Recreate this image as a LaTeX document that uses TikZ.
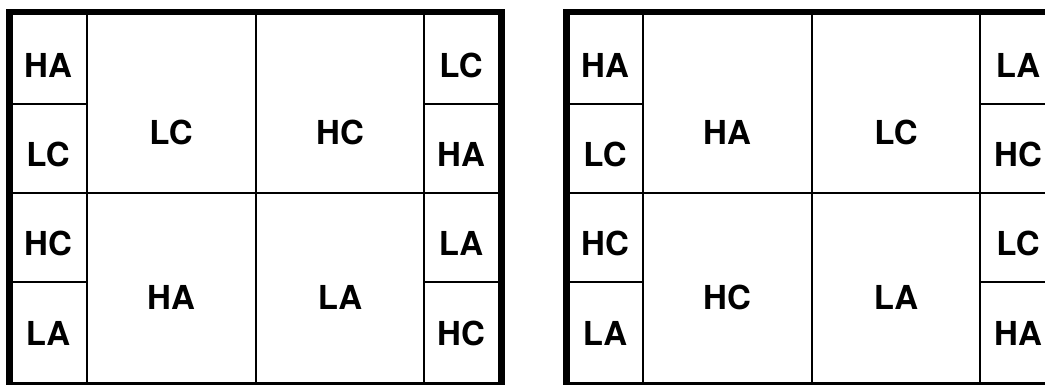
\documentclass[tikz,border=0pt]{standalone}
\usepackage{fontspec}
\setmainfont{TeX Gyre Heros}
\begin{document}
\begin{tikzpicture}[x=1pt,y=-1pt,
  thin line/.style={line width=2pt,black},
  frame/.style={line width=6.5pt,black},
  lbl/.style={font=\fontsize{33}{33}\selectfont\bfseries,inner sep=0pt}]
\useasboundingbox (0,0) rectangle (1045,384);
\clip (0,0) rectangle (1045,384);
% ---------- left grid ----------
\draw[thin line] (86.7,12) -- (86.7,386);
\draw[thin line] (256,12) -- (256,386);
\draw[thin line] (424,12) -- (424,386);
\draw[thin line] (12,193) -- (498,193);
\draw[thin line] (12,104) -- (86.7,104);
\draw[thin line] (12,282) -- (86.7,282);
\draw[thin line] (424,104) -- (498,104);
\draw[thin line] (424,282) -- (498,282);
\draw[frame] (9.5,385.5) rectangle (501.5,12);
% ---------- right grid ----------
\draw[thin line] (643,12) -- (643,386);
\draw[thin line] (812,12) -- (812,386);
\draw[thin line] (980,12) -- (980,386);
\draw[thin line] (570,193) -- (1054,193);
\draw[thin line] (570,104) -- (643,104);
\draw[thin line] (570,282) -- (643,282);
\draw[thin line] (980,104) -- (1054,104);
\draw[thin line] (980,282) -- (1054,282);
\draw[frame] (566.5,385.5) rectangle (1057.5,12);
% ---------- left labels ----------
\node[lbl] (l1) at (48,65) {HA};
\node[lbl] (l2) at (48,154) {LC};
\node[lbl] (l3) at (48,243) {HC};
\node[lbl] (l4) at (48,333) {LA};
\node[lbl] (l5) at (171,132) {LC};
\node[lbl] (l6) at (340,132) {HC};
\node[lbl] (l7) at (171,297) {HA};
\node[lbl] (l8) at (340,297) {LA};
\node[lbl] (l9) at (461,65) {LC};
\node[lbl] (l10) at (461,154) {HA};
\node[lbl] (l11) at (461,243) {LA};
\node[lbl] (l12) at (461,333) {HC};
% ---------- right labels ----------
\node[lbl] (r1) at (605,65) {HA};
\node[lbl] (r2) at (605,154) {LC};
\node[lbl] (r3) at (605,243) {HC};
\node[lbl] (r4) at (605,333) {LA};
\node[lbl] (r5) at (727,132) {HA};
\node[lbl] (r6) at (896,132) {LC};
\node[lbl] (r7) at (727,297) {HC};
\node[lbl] (r8) at (896,297) {LA};
\node[lbl] (r9) at (1018,65) {LA};
\node[lbl] (r10) at (1018,154) {HC};
\node[lbl] (r11) at (1018,243) {LC};
\node[lbl] (r12) at (1018,333) {HA};
\end{tikzpicture}
\end{document}
